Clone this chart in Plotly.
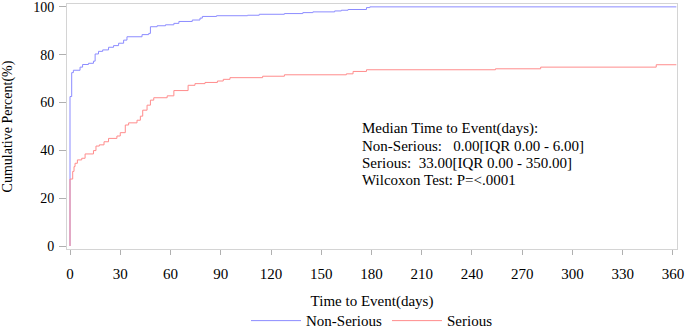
import plotly.graph_objects as go

# Non-Serious cumulative percent (step function)
ns_days = [0, 0, 1.0, 2.0, 6, 7.5, 11, 14, 15, 17, 19.5, 23, 26, 29, 32, 34, 43, 47, 48, 52,
           57, 62, 65, 73, 77.6, 79, 87.5, 106, 113, 128, 139, 145, 158, 162, 166, 177, 179, 362]
ns_pct = [0, 62.5, 72.5, 73.5, 74.8, 75.9, 76.4, 77.3, 80.3, 81.4, 82, 83.1, 83.8, 84.8, 86.1, 87.5,
          88.4, 88.9, 91.7, 92.1, 92.5, 93.1, 93.9, 94.5, 95.3, 96, 96.3, 96.5, 96.9, 97.2, 97.6,
          97.9, 98.3, 98.6, 98.9, 99.7, 100, 100]

# Serious cumulative percent (step function)
s_days = [0, 0, 1.6, 2.4, 3, 4.4, 7, 9, 14, 15.5, 17.5, 20.3, 23, 28, 30, 33, 35, 40, 42, 43.4,
          46, 48, 50, 58, 62, 70.5, 74.6, 80.6, 88, 91.5, 95.5, 115, 128, 165, 169, 177, 254,
          281, 350, 362]
s_pct = [0, 28, 31.2, 33.2, 34.6, 36, 36.7, 38.5, 39.9, 41.8, 42.3, 43.6, 45, 46, 47.4, 50.6,
         51.5, 52.6, 54.3, 56.8, 58.9, 61, 62, 62.8, 65, 67.2, 67.9, 68.4, 69, 69.7, 70.4, 71,
         71.6, 72, 73, 73.7, 74.1, 74.8, 75.8, 75.8]

x_ticks = list(range(0, 361, 30))
y_ticks = [0, 20, 40, 60, 80, 100]

stats_lines = [
    "Median Time to Event(days):",
    "Non-Serious:\u00a0\u00a0\u00a00.00[IQR 0.00 - 6.00]",
    "Serious:\u00a0\u00a033.00[IQR 0.00 - 350.00]",
    "Wilcoxon Test: P=<.0001",
]

FONT = "Liberation Serif, Times New Roman, serif"
blue = "#8c8cff"
red = "#ff8c8c"

fig = go.Figure()
fig.add_trace(go.Scatter(x=ns_days, y=ns_pct, mode="lines", line=dict(shape="hv", color=blue, width=1),
                         name="Non-Serious"))
fig.add_trace(go.Scatter(x=s_days, y=s_pct, mode="lines", line=dict(shape="hv", color=red, width=1),
                         name="Serious"))

for i, line in enumerate(stats_lines):
    fig.add_annotation(x=0.48, y=0.49 - i * 0.069, xref="paper", yref="paper",
                       xanchor="left", yanchor="middle",
                       text=line, showarrow=False, align="left",
                       font=dict(family=FONT, size=15, color="#000"))

axis_common = dict(showline=True, linecolor="#d4d4d4", mirror=True, ticks="outside",
                   tickcolor="#b0b0b0", showgrid=False, zeroline=False, automargin=False,
                   ticklabeloverflow="allow")

fig.update_layout(
    width=685, height=330,
    margin=dict(l=67, r=8, t=4, b=81, autoexpand=False),
    paper_bgcolor="white", plot_bgcolor="white",
    font=dict(family=FONT, size=15, color="#000"),
    xaxis=dict(range=[-1.8, 362.4], tickvals=x_ticks, ticklen=5, ticklabelstandoff=6,
               tickfont=dict(family=FONT, size=15, color="#000"),
               title=dict(text="Time to Event(days)", font=dict(family=FONT, size=15), standoff=14),
               **axis_common),
    yaxis=dict(range=[-1.25, 101.2], tickvals=y_ticks, ticklen=7, ticklabelstandoff=2,
               tickfont=dict(family=FONT, size=14, color="#000"),
               title=dict(text="Cumulative Percent(%)", font=dict(family=FONT, size=14), standoff=20),
               **axis_common),
    legend=dict(orientation="h", x=0.5, xanchor="center", y=-0.226, yanchor="top",
                font=dict(family=FONT, size=15), itemwidth=50, tracegroupgap=0),
    showlegend=True,
)

fig.write_html("out.html", post_script="document.body.style.margin='0';",
               config={"displayModeBar": False})
